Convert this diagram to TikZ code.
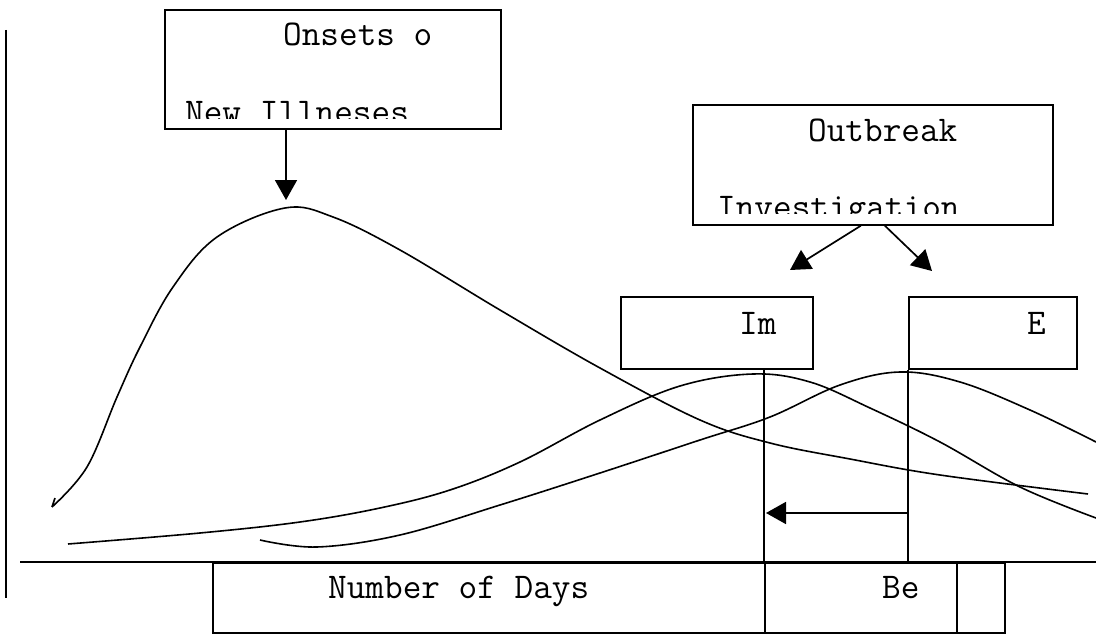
\documentclass[tikz,border=0pt]{standalone}
\usepackage{fontspec}
\usetikzlibrary{arrows.meta}
\begin{document}
\begin{tikzpicture}[x=1pt,y=-1pt,
  box/.style={draw, line width=1.7pt, inner sep=0pt, anchor=north west},
  lbl/.style={inner sep=0pt, anchor=base west, font=\ttfamily\fontsize{36.2}{40}\selectfont},
  arr/.style={line width=1.7pt, -{Triangle[length=20pt,width=22pt]}},
  ln/.style={line width=1.7pt},
  crv/.style={line width=1.6pt, line join=round}]
\useasboundingbox (0,0) rectangle (1096,634);
% axes
\coordinate (yaxT) at (6,30);
\coordinate (yaxB) at (6,598);
\coordinate (xaxL) at (20,562);
\coordinate (xaxR) at (1096,562);
\draw[ln] (yaxT) -- (yaxB);
% boxes
\node[box, minimum width=336pt, minimum height=119pt] (onset) at (164,9) {};
\node[box, minimum width=360pt, minimum height=120pt] (outb) at (692,104) {};
\node[box, minimum width=192pt, minimum height=72pt] (im) at (620,296) {};
\node[box, minimum width=168pt, minimum height=72pt] (ebox) at (908,296) {};
\node[box, minimum width=792pt, minimum height=70pt] (days) at (212,562) {};
\node[box, minimum width=192pt, minimum height=70pt] (be) at (764,562) {};
\draw[ln] (xaxL) -- (xaxR);
% labels
\node[lbl] (tOnset) at (283,46) {Onsets o};
\begin{scope}
  \clip (164,9) rectangle (500,118);
  \node[lbl] (tNew) at (185,123) {New Illneses};
\end{scope}
\node[lbl] (tOut) at (808,142) {Outbreak};
\begin{scope}
  \clip (692,104) rectangle (1052,213);
  \node[lbl] (tInv) at (717,218) {Investigation};
\end{scope}
\node[lbl] (tIm) at (739,334) {Im};
\node[lbl] (tE) at (1027,334) {E};
\node[lbl] (tDays) at (328,598) {Number of Days};
\node[lbl] (tBe) at (882,598) {Be};
% curves
\draw[crv] (55,498) -- (52,507) plot[smooth, tension=0.6] coordinates {(52,507) (87,467) (117,397) (140,347) (173,287) (217,237) (285,208) (333,217) (400,250) (500,310) (600,368) (700,420) (770,443) (850,459) (940,475) (1088,494)};
\draw[crv] plot[smooth, tension=0.6] coordinates {(68,544) (200,533) (300,522) (380,508) (450,490) (520,462) (600,420) (680,386) (753,374) (810,382) (870,408) (940,442) (1020,487) (1096,518)};
\draw[crv] plot[smooth, tension=0.6] coordinates {(260,540) (317,547) (400,535) (500,505) (600,473) (700,440) (770,417) (840,385) (900,372) (960,382) (1030,410) (1096,442)};
% vertical markers
\coordinate (imX) at (764,0);
\draw[ln] (im.south -| imX) -- (days.north -| imX);
\draw[ln] (ebox.south west) -- (days.north -| ebox.west);
% arrows
\coordinate (peak1) at (286,200);
\draw[arr] (onset.south -| peak1) -- (peak1);
\coordinate (tipIm) at (790,270);
\coordinate (tipE) at (932,271);
\draw[arr] ([xshift=-12pt]outb.south) -- (tipIm);
\draw[arr] ([xshift=12pt]outb.south) -- (tipE);
\coordinate (hA) at (908,513);
\coordinate (hB) at (766,513);
\draw[arr] (hA) -- (hB);
\end{tikzpicture}
\end{document}
